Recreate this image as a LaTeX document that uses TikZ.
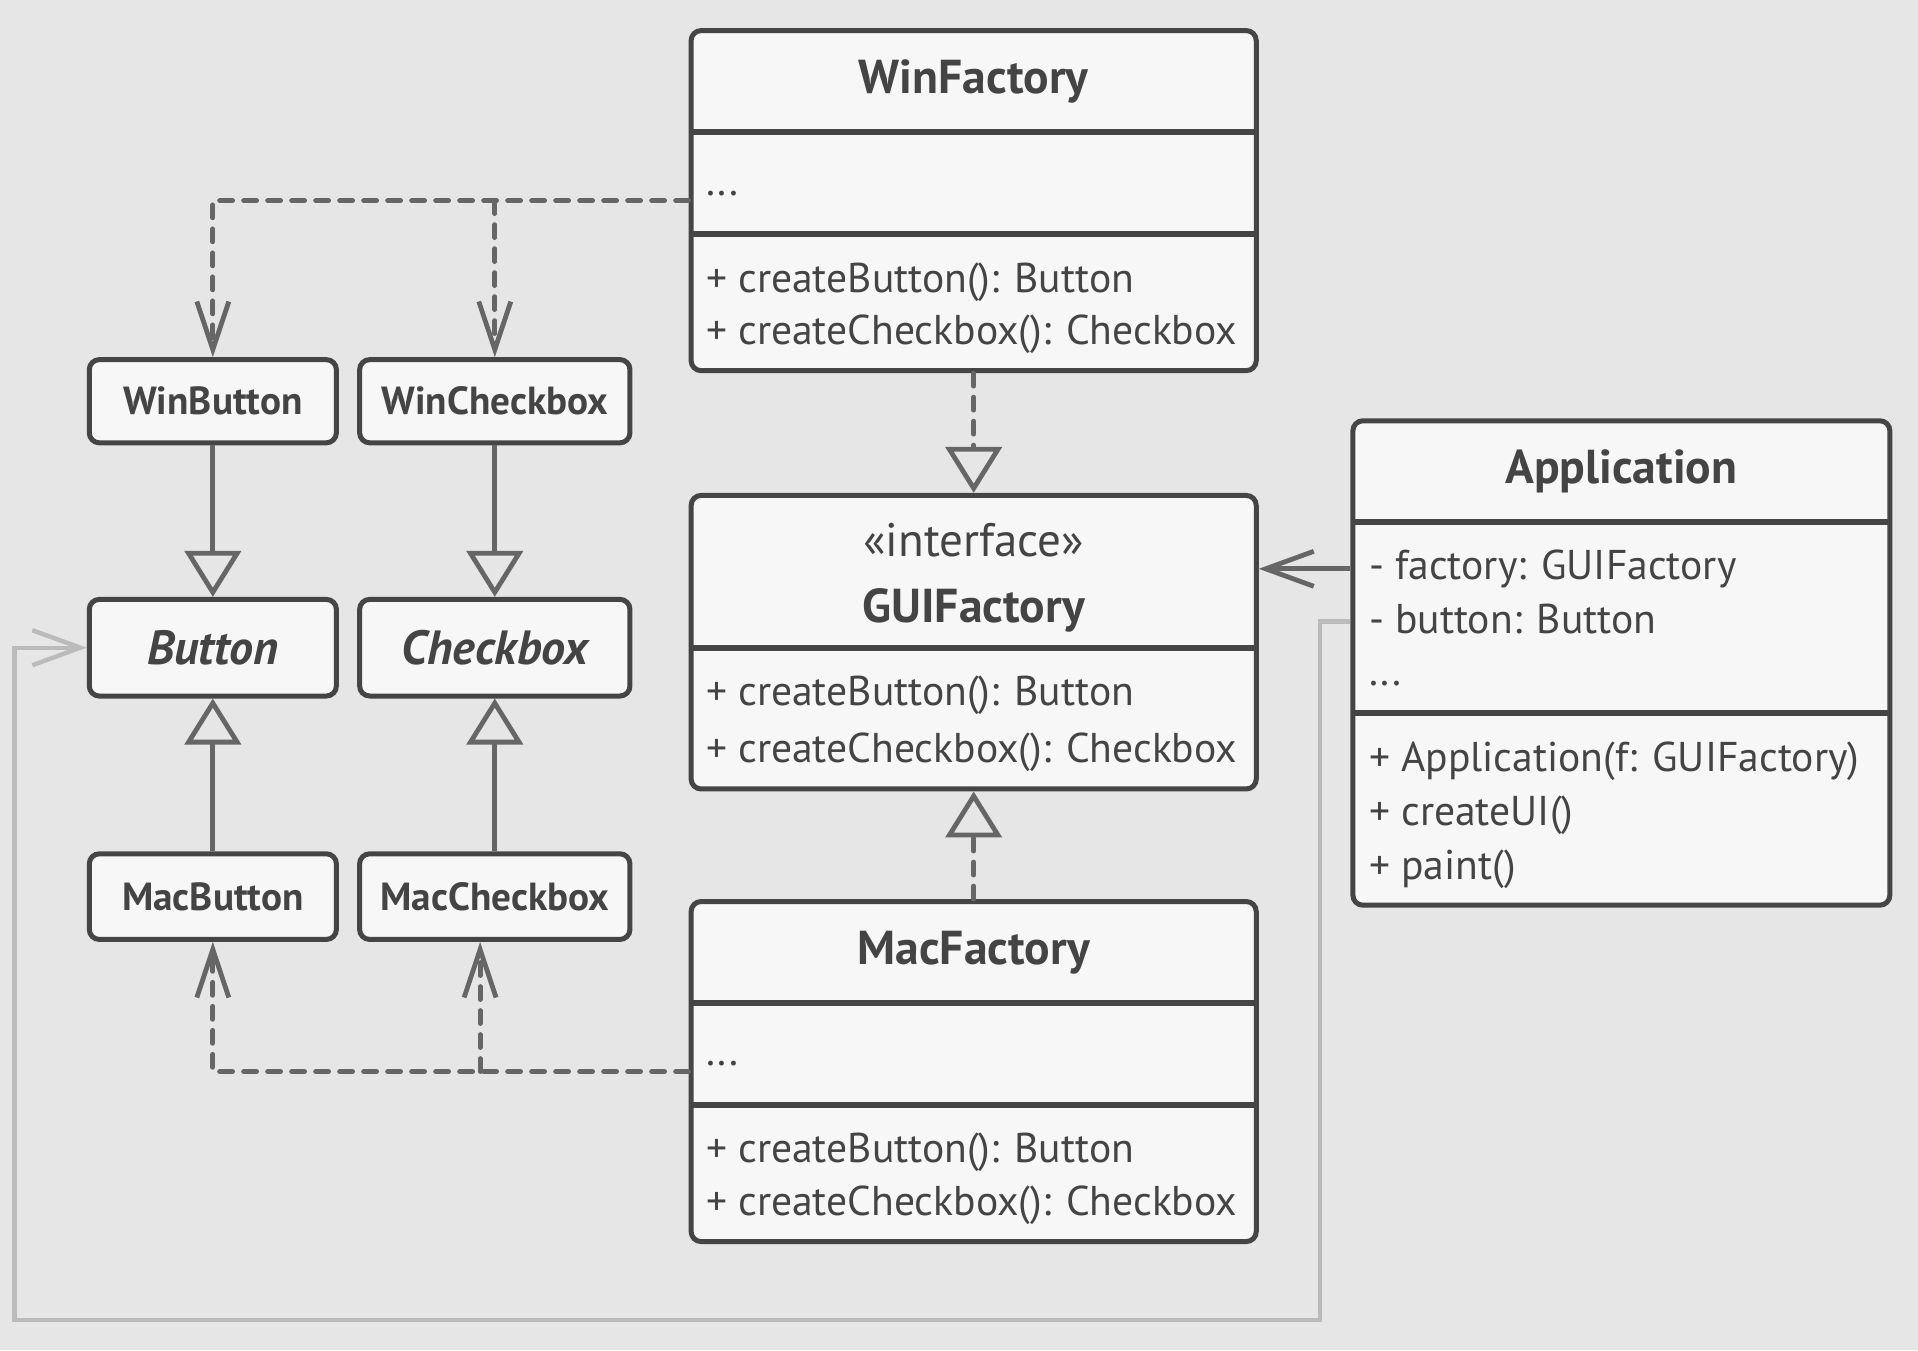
\documentclass[tikz,border=0pt]{standalone}
\usepackage{fontspec}
\setmainfont{PT Sans}
\usetikzlibrary{arrows.meta,calc}
\definecolor{bgc}{HTML}{E6E6E6}
\definecolor{boxfill}{HTML}{F7F7F7}
\definecolor{boxline}{HTML}{454545}
\definecolor{txtc}{HTML}{444444}
\definecolor{connc}{HTML}{666666}
\definecolor{retc}{HTML}{BBBBBB}
\def\px{0.6116pt}
\tikzset{
  clsbox/.style={draw=boxline, line width=2.5pt, fill=boxfill, rounded corners=5pt, inner sep=0pt},
  sepline/.style={draw=boxline, line width=3pt},
  ttltext/.style={font=\fontsize{23.8}{28}\selectfont\bfseries, text=txtc, text height=16.6pt, text depth=0pt, inner sep=0pt},
  smalltext/.style={font=\fontsize{19.6}{23}\selectfont\bfseries, text=txtc, text height=13.7pt, text depth=0pt, inner sep=0pt},
  abstext/.style={font=\fontsize{24}{28}\selectfont\bfseries\itshape, text=txtc, text height=16.8pt, text depth=0pt, inner sep=0pt},
  lntext/.style={font=\fontsize{20.8}{27}\selectfont, text=txtc, anchor=base west, inner sep=0pt},
  stereotext/.style={font=\fontsize{23.5}{27}\selectfont, text=txtc, anchor=base, inner sep=0pt},
  depline/.style={draw=connc, line width=2.4pt, line cap=round, dash pattern=on 6.5pt off 5.5pt, -{Straight Barb[length=24pt,width=16pt]}},
  realline/.style={draw=connc, line width=2.4pt, line cap=round, dash pattern=on 6.5pt off 5.5pt, -{Triangle[open,length=23pt,width=28pt]}},
  inhline/.style={draw=connc, line width=2.4pt, -{Triangle[open,length=23pt,width=28pt]}},
  assocline/.style={draw=connc, line width=2.4pt, -{Straight Barb[length=24pt,width=17.5pt]}},
  retline/.style={draw=retc, line width=2.2pt, -{Straight Barb[length=24pt,width=17.5pt]}},
}
\begin{document}
\begin{tikzpicture}[x=0.6116pt,y=-0.6116pt]
\path[use as bounding box, fill=bgc] (0,0) rectangle (1568,1104);

% ---- WinFactory
\node[clsbox, minimum width=462*\px, minimum height=278*\px] (winf) at (796,164) {};
\draw[sepline] (565,108) -- (1027,108);
\draw[sepline] (565,191) -- (1027,191);
\node[ttltext] (winf-t) at (796,63) {WinFactory};
\node[lntext] (winf-a) at (577,160) {...};
\node[lntext] (winf-m1) at (577,239) {+ createButton(): Button};
\node[lntext] (winf-m2) at (577,282) {+ createCheckbox(): Checkbox};

% ---- GUIFactory
\node[clsbox, minimum width=462*\px, minimum height=240*\px] (gui) at (796,525) {};
\draw[sepline] (565,530) -- (1027,530);
\node[stereotext] (gui-s) at (796,455) {«interface»};
\node[ttltext] (gui-t) at (796,495) {GUIFactory};
\node[lntext] (gui-m1) at (577,577) {+ createButton(): Button};
\node[lntext] (gui-m2) at (577,623) {+ createCheckbox(): Checkbox};

% ---- MacFactory
\node[clsbox, minimum width=462*\px, minimum height=278*\px] (macf) at (796,876) {};
\draw[sepline] (565,820) -- (1027,820);
\draw[sepline] (565,903) -- (1027,903);
\node[ttltext] (macf-t) at (796,775) {MacFactory};
\node[lntext] (macf-a) at (577,871) {...};
\node[lntext] (macf-m1) at (577,950) {+ createButton(): Button};
\node[lntext] (macf-m2) at (577,994) {+ createCheckbox(): Checkbox};

% ---- Application
\node[clsbox, minimum width=439*\px, minimum height=396*\px] (app) at (1325.5,542) {};
\draw[sepline] (1106,427) -- (1545,427);
\draw[sepline] (1106,583) -- (1545,583);
\node[ttltext] (app-t) at (1325.5,382) {Application};
\node[lntext] (app-a1) at (1119,474) {- factory: GUIFactory};
\node[lntext] (app-a2) at (1119,518) {- button: Button};
\node[lntext] (app-a3) at (1119,560) {...};
\node[lntext] (app-m1) at (1119,631) {+ Application(f: GUIFactory)};
\node[lntext] (app-m2) at (1119,675) {+ createUI()};
\node[lntext] (app-m3) at (1119,719) {+ paint()};

% ---- products
\node[clsbox, minimum width=202*\px, minimum height=68*\px] (winbtn) at (174,328) {};
\node[smalltext] at (winbtn) {WinButton};
\node[clsbox, minimum width=221*\px, minimum height=68*\px] (winchk) at (404.5,328) {};
\node[smalltext] at (winchk) {WinCheckbox};
\node[clsbox, minimum width=202*\px, minimum height=79*\px] (btn) at (174,529.5) {};
\node[abstext] at (btn) {Button};
\node[clsbox, minimum width=221*\px, minimum height=79*\px] (chk) at (404.5,529.5) {};
\node[abstext] at (chk) {Checkbox};
\node[clsbox, minimum width=202*\px, minimum height=70*\px] (macbtn) at (174,733) {};
\node[smalltext] at (macbtn) {MacButton};
\node[clsbox, minimum width=221*\px, minimum height=70*\px] (macchk) at (404.5,733) {};
\node[smalltext] at (macchk) {MacCheckbox};

% ---- connectors
\draw[depline] (winf.west) -| (winbtn.north);
\draw[depline] (winf.west -| winchk.north) -- (winchk.north);
\coordinate (mcj) at ([xshift=-12*\px]macchk.south);
\draw[depline] (macf.west) -| (macbtn.south);
\draw[depline] (macf.west -| mcj) -- (mcj);

\draw[inhline] (winbtn.south) -- (btn.north);
\draw[inhline] (winchk.south) -- (chk.north);
\draw[inhline] (macbtn.north) -- (btn.south);
\draw[inhline] (macchk.north) -- (chk.south);

\draw[realline] (winf.south) -- (gui.north);
\draw[realline] (macf.north) -- (gui.south);

\coordinate (appf) at ([yshift=77*\px]app.west);
\draw[assocline] (appf) -- (appf -| gui.east);

\coordinate (appb) at ([yshift=34*\px]app.west);
\coordinate (r1) at (1079,1079);
\coordinate (r2) at (12,1079);
\draw[retline] (appb) -| (r1) -- (r2) |- (btn.west);
\end{tikzpicture}
\end{document}
